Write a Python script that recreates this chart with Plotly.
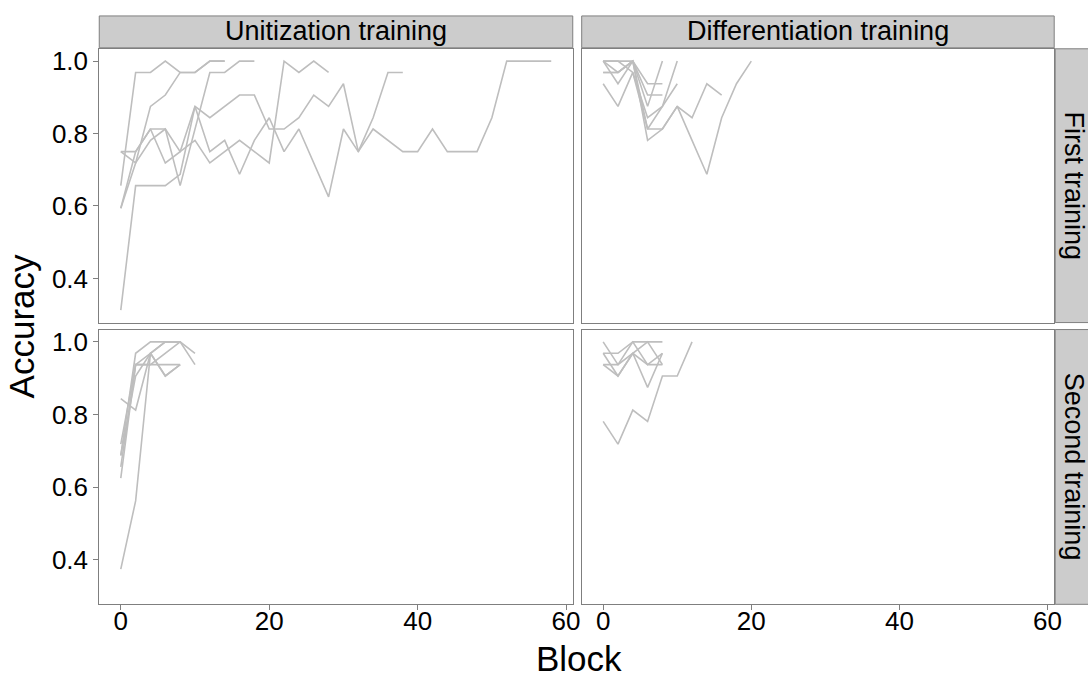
import plotly.graph_objects as go

# ---------------- data ----------------
col_labels = ["Unitization training", "Differentiation training"]
row_labels = ["First training", "Second training"]
x_ticks = [0, 20, 40, 60]
y_ticks = [0.4, 0.6, 0.8, 1.0]

unit_first_blocks = [
    [0, 2, 4, 6, 8, 10, 12, 14],
    [0, 2, 4, 6, 8, 10, 12, 14],
    [0, 2, 4, 6, 8, 10, 12, 14, 16, 18],
    [0, 2, 4, 6, 8, 10, 12, 14, 16, 18, 20, 22, 24, 26, 28],
    [0, 2, 4, 6, 8, 10, 12, 14, 16, 18, 20, 22, 24, 26, 28, 30, 32, 34, 36, 38],
    [0, 2, 4, 6, 8, 10, 12, 14, 16, 18, 20, 22, 24, 26, 28, 30, 32, 34, 36, 38,
     40, 42, 44, 46, 48, 50, 52, 54, 56, 58],
]
unit_first_acc = [
    [0.65625, 0.96875, 0.96875, 1.0, 0.96875, 0.96875, 1.0, 1.0],
    [0.59375, 0.71875, 0.875, 0.90625, 0.96875, 0.96875, 1.0, 1.0],
    [0.59375, 0.75, 0.8125, 0.8125, 0.65625, 0.8125, 0.96875, 0.96875, 1.0, 1.0],
    [0.75, 0.71875, 0.78125, 0.8125, 0.75, 0.78125, 0.71875, 0.75, 0.78125, 0.75,
     0.71875, 1.0, 0.96875, 1.0, 0.96875],
    [0.75, 0.75, 0.8125, 0.71875, 0.75, 0.875, 0.84375, 0.875, 0.90625, 0.90625,
     0.8125, 0.8125, 0.84375, 0.90625, 0.875, 0.9375, 0.75, 0.84375, 0.96875, 0.96875],
    [0.3125, 0.65625, 0.65625, 0.65625, 0.6875, 0.875, 0.75, 0.78125, 0.6875, 0.78125,
     0.84375, 0.75, 0.8125, 0.71875, 0.625, 0.8125, 0.75, 0.8125, 0.78125, 0.75,
     0.75, 0.8125, 0.75, 0.75, 0.75, 0.84375, 1.0, 1.0, 1.0, 1.0],
]

diff_first_blocks = [
    [0, 2, 4, 6, 8],
    [0, 2, 4, 6, 8],
    [0, 2, 4, 6, 8, 10],
    [0, 2, 4, 6, 8],
    [0, 2, 4, 6, 8, 10],
    [0, 2, 4, 6, 8, 10, 12, 14, 16],
    [0, 2, 4, 6, 8, 10, 12, 14, 16, 18, 20],
]
diff_first_acc = [
    [1.0, 1.0, 1.0, 0.9375, 0.9375],
    [0.96875, 0.96875, 1.0, 0.90625, 0.90625],
    [0.9375, 0.875, 0.96875, 0.84375, 0.875, 0.9375],
    [1.0, 0.96875, 1.0, 0.875, 1.0],
    [1.0, 0.9375, 1.0, 0.8125, 0.875, 1.0],
    [0.96875, 0.96875, 1.0, 0.78125, 0.8125, 0.875, 0.84375, 0.9375, 0.90625],
    [1.0, 1.0, 0.96875, 0.8125, 0.8125, 0.875, 0.78125, 0.6875, 0.84375, 0.9375, 1.0],
]

unit_second_blocks = [
    [0, 2, 4, 6, 8],
    [0, 2, 4, 6, 8, 10],
    [0, 2, 4, 6, 8, 10],
    [0, 2, 4, 6, 8],
    [0, 2, 4, 6, 8],
    [0, 2, 4, 6, 8],
    [0, 2, 4, 6, 8],
]
unit_second_acc = [
    [0.375, 0.5625, 0.96875, 0.90625, 0.9375],
    [0.84375, 0.8125, 0.96875, 1.0, 1.0, 0.96875],
    [0.71875, 0.9375, 0.96875, 1.0, 1.0, 0.9375],
    [0.6875, 0.96875, 1.0, 1.0, 1.0],
    [0.65625, 0.9375, 0.9375, 0.9375, 0.9375],
    [0.625, 0.9375, 0.9375, 0.96875, 1.0],
    [0.6875, 0.90625, 0.96875, 0.90625, 0.9375],
]

diff_second_blocks = [
    [0, 2, 4, 6, 8, 10, 12],
    [0, 2, 4, 6, 8],
    [0, 2, 4, 6, 8],
    [0, 2, 4, 6, 8],
    [0, 2, 4, 6, 8],
    [0, 2, 4, 6, 8],
]
diff_second_acc = [
    [0.78125, 0.71875, 0.8125, 0.78125, 0.90625, 0.90625, 1.0],
    [1.0, 0.9375, 1.0, 1.0, 1.0],
    [0.96875, 0.96875, 1.0, 0.9375, 0.96875],
    [0.9375, 0.90625, 0.96875, 0.875, 0.96875],
    [0.9375, 0.9375, 0.96875, 0.9375, 0.9375],
    [0.96875, 0.90625, 0.96875, 1.0, 0.9375],
]

# ---------------- layout helpers ----------------
W, H = 1088, 677
def px(x):
    return x / W
def py(y):
    return 1 - y / H

FONT = "Liberation Sans, Arial, Helvetica, sans-serif"
LINE_COL = "#BEBEBE"
BORDER = "#7F7F7F"
STRIP_FILL = "#CCCCCC"
SMALL = 26
STRIP = 27
BIG = 35

col_x = [(100, 577), (586, 1062)]
row_y = [(46, 321), (328, 604)]
strip_top = (13, 45)
strip_right = (1063, 1118)

fig = go.Figure()

panels = [
    (unit_first_blocks, unit_first_acc, 0, 0),
    (diff_first_blocks, diff_first_acc, 0, 1),
    (unit_second_blocks, unit_second_acc, 1, 0),
    (diff_second_blocks, diff_second_acc, 1, 1),
]

for i, (blocks, accs, r, c) in enumerate(panels):
    n = i + 1
    xa = "x" if n == 1 else f"x{n}"
    ya = "y" if n == 1 else f"y{n}"
    for b, a in zip(blocks, accs):
        fig.add_trace(go.Scatter(x=b, y=a, mode="lines", xaxis=xa, yaxis=ya,
                                 line=dict(color=LINE_COL, width=1.6),
                                 showlegend=False, hoverinfo="skip"))
    xkey = "xaxis" if n == 1 else f"xaxis{n}"
    ykey = "yaxis" if n == 1 else f"yaxis{n}"
    x0, x1 = col_x[c]
    y0, y1 = row_y[r]
    bottom = (r == 1)
    left = (c == 0)
    fig.layout[xkey] = dict(
        domain=[px(x0), px(x1)], anchor=ya, range=[-2.9, 60.9],
        showgrid=False, zeroline=False, showline=True, mirror=True,
        linecolor=BORDER, linewidth=1,
        tickvals=x_ticks, ticks="outside" if bottom else "",
        ticklen=5, tickcolor=BORDER, showticklabels=bottom,
        ticklabelstandoff=-12,
        tickfont=dict(family=FONT, size=SMALL, color="black"),
    )
    fig.layout[ykey] = dict(
        domain=[py(y1), py(y0)], anchor=xa, range=[0.278, 1.034],
        showgrid=False, zeroline=False, showline=True, mirror=True,
        linecolor=BORDER, linewidth=1,
        tickvals=y_ticks, tickformat=".1f", ticks="outside" if left else "",
        ticklen=5, tickcolor=BORDER, showticklabels=left,
        tickfont=dict(family=FONT, size=SMALL, color="black"),
    )

shapes = []
annotations = []
for c, lab in enumerate(col_labels):
    x0, x1 = col_x[c]
    shapes.append(dict(type="rect", xref="paper", yref="paper",
                       x0=px(x0), x1=px(x1), y0=py(strip_top[1]), y1=py(strip_top[0]),
                       fillcolor=STRIP_FILL, line=dict(color=BORDER, width=1), layer="below"))
    annotations.append(dict(text=lab, xref="paper", yref="paper",
                            x=px((x0 + x1) / 2), y=py((strip_top[0] + strip_top[1]) / 2 - 1),
                            xanchor="center", yanchor="middle", showarrow=False,
                            font=dict(family=FONT, size=STRIP, color="black")))
for r, lab in enumerate(row_labels):
    y0, y1 = row_y[r]
    shapes.append(dict(type="rect", xref="paper", yref="paper",
                       x0=px(strip_right[0]), x1=px(strip_right[1]), y0=py(y1), y1=py(y0),
                       fillcolor=STRIP_FILL, line=dict(color=BORDER, width=1), layer="below"))
    annotations.append(dict(text=lab, xref="paper", yref="paper",
                            x=px(1065), y=py((y0 + y1) / 2),
                            xanchor="left", yanchor="middle", showarrow=False, textangle=90,
                            font=dict(family=FONT, size=STRIP, color="black")))

annotations.append(dict(text="Block", xref="paper", yref="paper",
                        x=px(583), y=py(658), xanchor="center", yanchor="middle",
                        showarrow=False, font=dict(family=FONT, size=BIG, color="black")))
annotations.append(dict(text="Accuracy", xref="paper", yref="paper",
                        x=px(22), y=py(325), xanchor="center", yanchor="middle",
                        showarrow=False, textangle=-90,
                        font=dict(family=FONT, size=BIG, color="black")))

fig.update_layout(width=W, height=H, margin=dict(l=0, r=0, t=0, b=0),
                  paper_bgcolor="white", plot_bgcolor="white",
                  shapes=shapes, annotations=annotations, showlegend=False)

fig.write_html("out.html", config={"displayModeBar": False},
               post_script="document.body.style.margin='0px';")
